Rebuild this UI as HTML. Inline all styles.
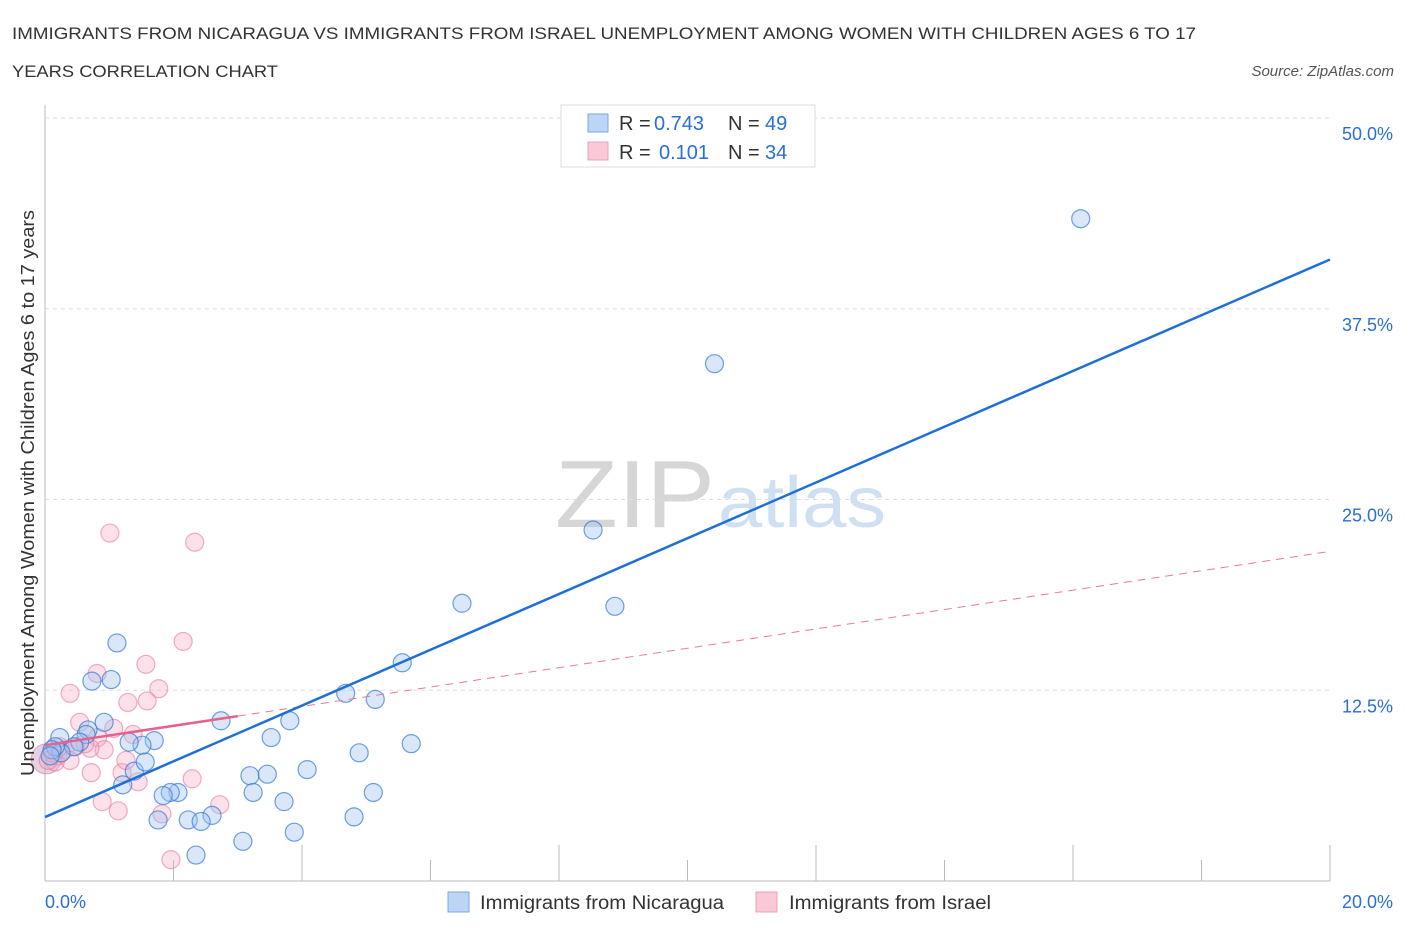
<!DOCTYPE html>
<html><head><meta charset="utf-8"><style>
body{margin:0;background:#fff;font-family:"Liberation Sans",sans-serif;}
svg text{font-family:"Liberation Sans",sans-serif;}
</style></head><body>
<svg id="chart" width="1406" height="930">
<text x="12" y="39" font-size="17" fill="#333" textLength="1184" lengthAdjust="spacingAndGlyphs">IMMIGRANTS FROM NICARAGUA VS IMMIGRANTS FROM ISRAEL UNEMPLOYMENT AMONG WOMEN WITH CHILDREN AGES 6 TO 17</text>
<text x="12" y="77" font-size="17" fill="#333" textLength="266" lengthAdjust="spacingAndGlyphs">YEARS CORRELATION CHART</text>
<text x="1394" y="76" font-size="15" fill="#555" font-style="italic" text-anchor="end">Source: ZipAtlas.com</text>
<text x="555" y="527" font-size="96" fill="#d6d6d6" textLength="160" lengthAdjust="spacingAndGlyphs" font-family="Liberation Serif">ZIP</text>
<text x="718" y="527" font-size="72" fill="#cfe0f3" textLength="168" lengthAdjust="spacingAndGlyphs">atlas</text>
<g id="grid"></g><g id="marks"></g>
<text transform="translate(34,493) rotate(-90)" font-size="18" fill="#333" text-anchor="middle" textLength="566" lengthAdjust="spacingAndGlyphs">Unemployment Among Women with Children Ages 6 to 17 years</text>
<g>
<rect x="561" y="105" width="254" height="62" fill="#fff" stroke="#ddd"/>
<rect x="588" y="114" width="20" height="18" fill="#bcd5f5" stroke="#7aa7e6"/>
<rect x="588" y="142" width="20" height="18" fill="#f9c9d7" stroke="#eea0b8"/>
<text x="619" y="130" font-size="20" fill="#333">R =</text>
<text x="654" y="130" font-size="20" fill="#2a6fd6">0.743</text>
<text x="728" y="130" font-size="20" fill="#333">N =</text>
<text x="765" y="130" font-size="20" fill="#2a6fd6">49</text>
<text x="619" y="159" font-size="20" fill="#333">R =</text>
<text x="659" y="159" font-size="20" fill="#2a6fd6">0.101</text>
<text x="728" y="159" font-size="20" fill="#333">N =</text>
<text x="765" y="159" font-size="20" fill="#2a6fd6">34</text>
</g>
<g>
<rect x="448" y="892" width="21" height="20" fill="#bcd5f5" stroke="#7aa7e6"/>
<text x="480" y="909" font-size="19" fill="#333" textLength="244" lengthAdjust="spacingAndGlyphs">Immigrants from Nicaragua</text>
<rect x="756" y="892" width="21" height="20" fill="#f9c9d7" stroke="#eea0b8"/>
<text x="789" y="909" font-size="19" fill="#333" textLength="202" lengthAdjust="spacingAndGlyphs">Immigrants from Israel</text>
</g>
</svg>
<script>
const xTicks=[0,20];
const yTicks=[12.5,25,37.5,50];
const nicX=[16.12,10.42,8.53,6.49,8.87,5.56,4.68,5.14,2.74,3.81,5.70,3.52,4.89,4.08,3.19,3.46,5.11,3.24,3.72,4.81,3.88,3.08,2.35,2.60,2.23,2.43,1.76,2.07,1.95,1.84,1.21,1.39,1.56,1.70,1.51,1.31,0.92,1.03,0.73,1.12,0.67,0.64,0.54,0.45,0.23,0.25,0.16,0.11,0.08];
const nicY=[43.4,33.9,23.0,18.2,18.0,14.3,12.3,11.9,10.5,10.5,9.0,9.4,8.4,7.3,6.9,7.0,5.8,5.8,5.2,4.2,3.2,2.6,1.7,4.3,4.0,3.9,4.0,5.8,5.8,5.6,6.3,7.2,7.8,9.2,8.9,9.1,10.4,13.2,13.1,15.6,9.9,9.6,9.1,8.8,9.4,8.4,8.8,8.6,8.2];
const israelX=[1.01,2.33,2.15,1.57,0.81,0.39,1.77,1.59,1.29,0.54,1.07,1.37,0.82,0.92,0.70,0.62,1.20,1.26,1.45,0.72,2.29,0.89,1.14,2.72,1.82,1.96,0.20,0.11,0.16,0.05,0.31,0.47,0.23,0.39];
const israelY=[22.8,22.2,15.7,14.2,13.6,12.3,12.6,11.8,11.7,10.4,10.0,9.6,9.4,8.6,8.7,9.0,7.1,7.9,6.5,7.1,6.7,5.2,4.6,5.0,4.4,1.4,8.2,8.4,7.8,7.9,8.6,8.8,8.8,7.9];
const nicFit=[4.19,40.73];
const israelFit=[8.9,21.6];
const SVGNS="http://www.w3.org/2000/svg";
const X0=45,X1=1330,Y0=881,YTOP=118;
const sx=v=>X0+(v/20)*(X1-X0);
const sy=v=>Y0-(v/50)*(Y0-YTOP);
function mk(t,a,p){const e=document.createElementNS(SVGNS,t);for(const k in a)e.setAttribute(k,a[k]);p.appendChild(e);return e;}
const grid=document.getElementById('grid'),marks=document.getElementById('marks');
mk('line',{x1:X0,y1:105,x2:X0,y2:Y0,stroke:'#bbb'},grid);
mk('line',{x1:X0,y1:Y0,x2:X1,y2:Y0,stroke:'#bbb'},grid);
yTicks.forEach(v=>{
const l=mk('line',{x1:X0,y1:sy(v),x2:X1,y2:sy(v),stroke:'#ddd','stroke-dasharray':'4,4'},grid);


const t=mk('text',{x:1393,y:sy(v)+22,'font-size':18,fill:'#2a6fd6','text-anchor':'end'},grid);
t.textContent=v.toFixed(1)+'%';


});
for(let i=1;i<=10;i++){const x=sx(i*2);mk('line',{x1:x,y1:Y0,x2:x,y2:i%2?860:845,stroke:'#bbb'},grid);}
xTicks.forEach((v,i)=>{
const t=mk('text',{x:i?1393:45,y:908,'font-size':18,fill:'#2a6fd6','text-anchor':i?'end':'start'},grid);
t.textContent=v.toFixed(1)+'%';


});
const big=mk('circle',{cx:sx(0.02),cy:sy(8.0),r:15,fill:'rgba(200,150,190,0.45)',stroke:'rgba(200,120,170,0.6)'},marks);


israelX.forEach((v,i)=>{
const c=mk('circle',{cx:sx(v),cy:sy(israelY[i]),r:9,fill:'rgba(245,170,195,0.35)',stroke:'rgba(232,120,155,0.6)','stroke-width':1.2},marks);


});
nicX.forEach((v,i)=>{
const c=mk('circle',{cx:sx(v),cy:sy(nicY[i]),r:9,fill:'rgba(160,195,240,0.4)',stroke:'rgba(50,120,215,0.7)','stroke-width':1.2},marks);


});
const pf=x=>israelFit[0]+(israelFit[1]-israelFit[0])*x/20;
const l1=mk('line',{x1:sx(3),y1:sy(pf(3)),x2:sx(20),y2:sy(pf(20)),stroke:'#e87a9c','stroke-width':1,'stroke-dasharray':'8,6'},marks);


const l2=mk('line',{x1:sx(0),y1:sy(pf(0)),x2:sx(3),y2:sy(pf(3)),stroke:'#e8618c','stroke-width':2.5},marks);


const l3=mk('line',{x1:sx(0),y1:sy(nicFit[0]),x2:sx(20),y2:sy(nicFit[1]),stroke:'#1f6fd8','stroke-width':2.5},marks);


</script>
</body></html>
